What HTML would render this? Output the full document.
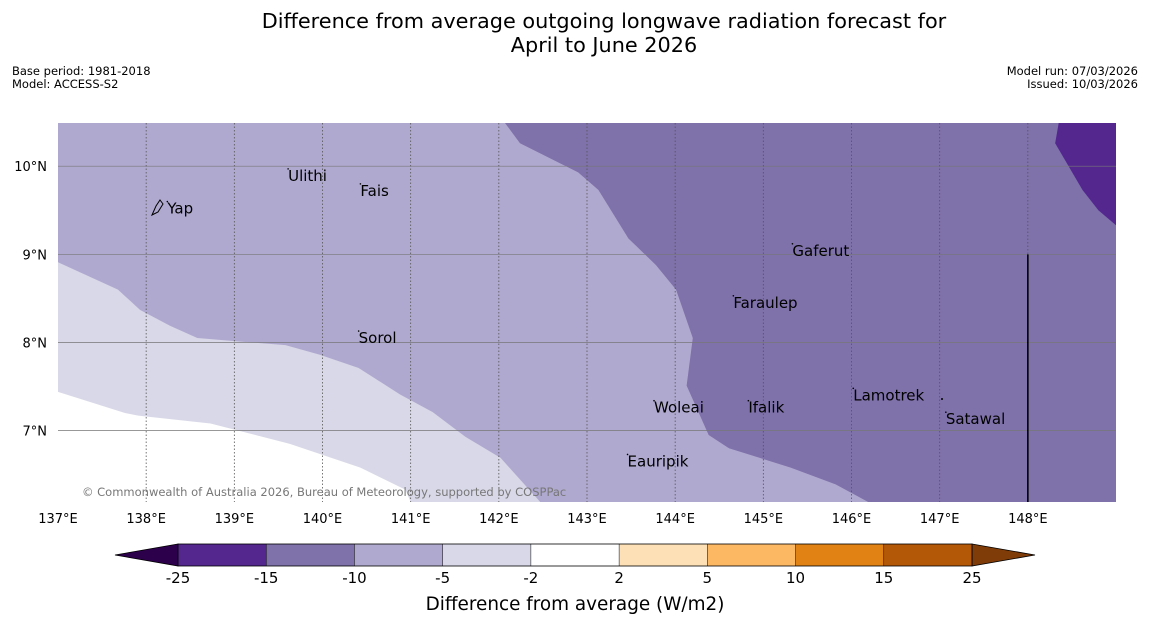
<!DOCTYPE html>
<html><head><meta charset="utf-8"><style>
body{margin:0;background:#fff;}
svg{display:block;font-family:"DejaVu Sans","Liberation Sans",sans-serif;}
</style></head><body>
<svg id="chart" width="1150" height="644" viewBox="0 0 1150 644">
<text x="604" y="28" font-size="20.8" text-anchor="middle">Difference from average outgoing longwave radiation forecast for</text>
<text x="604" y="52" font-size="20.8" text-anchor="middle">April to June 2026</text>
<text x="12" y="75" font-size="11.5">Base period: 1981-2018</text>
<text x="12" y="88" font-size="11.5">Model: ACCESS-S2</text>
<text x="1138" y="75" font-size="11.5" text-anchor="end">Model run: 07/03/2026</text>
<text x="1138" y="88" font-size="11.5" text-anchor="end">Issued: 10/03/2026</text>
<g id="map"></g>
<g id="cbar"></g>
</svg>
<script>
const lonRange=[137,149], latRange=[6.19,10.49];
const lonTicks=[137,138,139,140,141,142,143,144,145,146,147,148];
const latTicks=[7,8,9,10];
const bgLevelColor="#b0a9cf";
const regionLavender=[[137,8.91],[137.68,8.60],[137.93,8.37],[138.27,8.19],[138.58,8.05],[139.07,8.01],[139.58,7.97],[139.97,7.86],[140.41,7.71],[140.88,7.41],[141.25,7.21],[141.62,6.93],[142.02,6.69],[142.47,6.19],[137,6.19]];
const regionWhite=[[137,7.44],[137.76,7.20],[137.91,7.17],[138.73,7.08],[139.63,6.85],[140.43,6.58],[140.94,6.33],[141.0,6.19],[137,6.19]];
const regionDark=[[142.07,10.49],[142.24,10.26],[142.90,9.93],[143.13,9.73],[143.47,9.18],[143.78,8.88],[144.01,8.60],[144.20,8.05],[144.13,7.51],[144.38,6.95],[144.61,6.80],[145.31,6.58],[145.82,6.39],[146.19,6.19],[149,6.19],[149,10.49]];
const regionDarkest=[[148.35,10.49],[148.31,10.26],[148.62,9.73],[148.80,9.50],[149,9.33],[149,10.49]];
const placeNames=["Ulithi","Fais","Yap","Gaferut","Faraulep","Sorol","Woleai","Ifalik","Lamotrek","Satawal","Eauripik"];
const placeLon=[139.61,140.43,138.24,145.33,144.66,140.41,143.76,144.83,146.02,147.07,143.46];
const placeLat=[9.89,9.72,9.52,9.04,8.45,8.05,7.26,7.26,7.40,7.13,6.65];
const cbLevels=["-25","-15","-10","-5","-2","2","5","10","15","25"];
const cbColors=["#54278f","#7f71aa","#b0a9cf","#d8d8e8","#ffffff","#fee0b6","#fdb863","#e08214","#b35806"];
const cbExtColors=["#2d004b","#7f3b08"];

const X0=58,X1=1116,Y0=123,Y1=502;
const xs=lon=>X0+(lon-lonRange[0])/(lonRange[1]-lonRange[0])*(X1-X0);
const ys=lat=>Y1-(lat-latRange[0])/(latRange[1]-latRange[0])*(Y1-Y0);
const NS="http://www.w3.org/2000/svg";
function mk(tag,attrs,parent,txt){const e=document.createElementNS(NS,tag);for(const k in attrs)e.setAttribute(k,attrs[k]);if(txt!==undefined)e.textContent=txt;parent.appendChild(e);return e;}
const map=document.getElementById('map');
let r=mk('rect',{x:X0,y:Y0,width:X1-X0,height:Y1-Y0,fill:bgLevelColor},map);


function poly(pts,fill,name){const p=mk('polygon',{points:pts.map(q=>xs(q[0])+','+ys(q[1])).join(' '),fill:fill},map);

}
poly(regionLavender,"#d8d8e8","region-minus5-to-minus2");
poly(regionWhite,"#ffffff","region-neutral");
poly(regionDark,"#7f71aa","region-minus15-to-minus10");
poly(regionDarkest,"#54278f","region-minus25-to-minus15");
latTicks.forEach(t=>{const l=mk('line',{x1:X0,x2:X1,y1:ys(t),y2:ys(t),stroke:"#777",'stroke-width':0.7},map);


const tx=mk('text',{x:X0-11,y:ys(t)+5,'font-size':13,'text-anchor':'end'},map,t+"°N");

});
lonTicks.forEach(t=>{if(t>lonRange[0]){const l=mk('line',{x1:xs(t),x2:xs(t),y1:Y0,y2:Y1,stroke:"#555",'stroke-width':0.8,'stroke-dasharray':'1.5,2'},map);

}
const tx=mk('text',{x:xs(t),y:Y1+21,'font-size':13,'text-anchor':'middle'},map,t+"°E");

});
let bl=mk('line',{x1:xs(148),x2:xs(148),y1:ys(9),y2:Y1,stroke:"#000",'stroke-width':1.6},map);


placeNames.forEach((n,i)=>{const x=xs(placeLon[i]),y=ys(placeLat[i]);
const d=mk('circle',{cx:x,cy:y-7,r:0.8,fill:"#000"},map);


const t=mk('text',{x:x,y:y+5,'font-size':15},map,n);

});
let yap=mk('path',{d:"M152,215 L156,206 L160,200 L163,204 L158,212 Z",fill:"none",stroke:"#000",'stroke-width':1},map);


let dot=mk('circle',{cx:942,cy:399,r:1,fill:"#000"},map);


let cp=mk('text',{x:82,y:496,'font-size':11.5,fill:"#777"},map,"© Commonwealth of Australia 2026, Bureau of Meteorology, supported by COSPPac");



const cb=document.getElementById('cbar');
const CX0=178,CX1=972,CY0=544,CY1=566,n=cbColors.length,w=(CX1-CX0)/n;
let e1=mk('polygon',{points:`${CX0},${CY0} 115,${(CY0+CY1)/2} ${CX0},${CY1}`,fill:cbExtColors[0],stroke:"#000",'stroke-width':0.8},cb);


let e2=mk('polygon',{points:`${CX1},${CY0} 1035,${(CY0+CY1)/2} ${CX1},${CY1}`,fill:cbExtColors[1],stroke:"#000",'stroke-width':0.8},cb);


cbColors.forEach((c,i)=>{const b=mk('rect',{x:CX0+i*w,y:CY0,width:w,height:CY1-CY0,fill:c},cb);

});
let fr=mk('rect',{x:CX0,y:CY0,width:CX1-CX0,height:CY1-CY0,fill:"none",stroke:"#000",'stroke-width':0.8},cb);


cbLevels.forEach((l,i)=>{const x=CX0+i*w;
mk('line',{x1:x,x2:x,y1:CY0,y2:CY1,stroke:"#000",'stroke-width':0.5},cb);
const t=mk('text',{x:x,y:CY1+17,'font-size':15,'text-anchor':'middle'},cb,l);

});
let ct=mk('text',{x:575,y:610,'font-size':18.4,'text-anchor':'middle'},cb,"Difference from average (W/m2)");


</script>
</body></html>
